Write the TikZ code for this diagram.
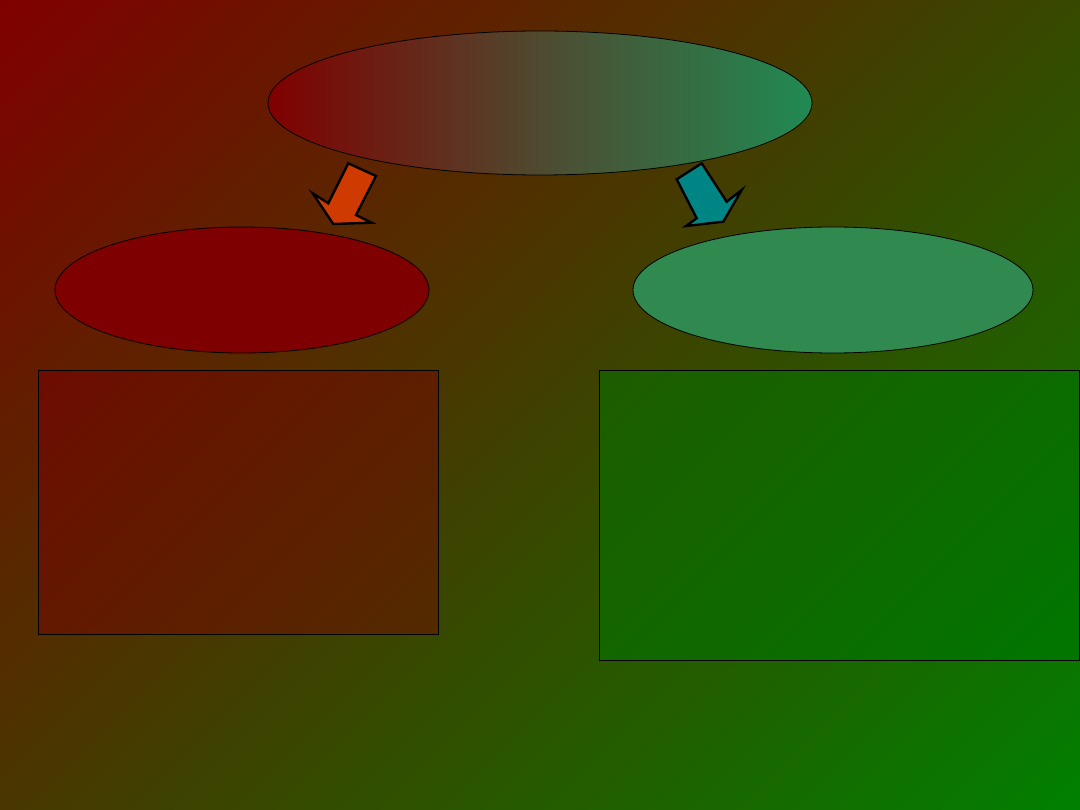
\documentclass[tikz,border=0pt]{standalone}
\usetikzlibrary{shapes.geometric}
\definecolor{bgred}{HTML}{800000}
\definecolor{bggreen}{HTML}{008000}
\definecolor{topgreen}{HTML}{208A52}
\definecolor{topmid}{HTML}{4F4A30}
\definecolor{leftfill}{HTML}{7E0000}
\definecolor{rightfill}{HTML}{30894F}
\definecolor{lboxa}{HTML}{6E0C00}
\definecolor{lboxb}{HTML}{522B00}
\definecolor{rboxa}{HTML}{1E5C00}
\definecolor{rboxb}{HTML}{007600}
\definecolor{arrowred}{HTML}{CF3A00}
\definecolor{arrowteal}{HTML}{008585}
% 45 degree gradient in a rectangle: x0,y0,x1,y1,colour A (top left), colour B (bottom right)
\newcommand\mydiagfill[6]{%
  \begin{scope}
    \clip (#1,#2) rectangle (#3,#4);
    \pgfmathsetmacro\mydcx{(#1+#3)/2}%
    \pgfmathsetmacro\mydcy{(#2+#4)/2}%
    \pgfmathsetmacro\myds{((#3-#1)+(#4-#2))/2/sqrt(2)}%
    \begin{scope}[transform canvas={shift={(\mydcx,\mydcy)},rotate=45}]
      \shade[top color=#5,bottom color=#6] (-\myds,-\myds) rectangle (\myds,\myds);
    \end{scope}
  \end{scope}}
\begin{document}
\begin{tikzpicture}[x=1pt,y=-1pt,
  oval/.style={ellipse,draw=black,line width=0.8pt,inner sep=0pt},
  panel/.style={rectangle,draw=black,line width=1pt,inner sep=0pt},
  blockarrow/.style={draw=black,line width=2.4pt,line join=miter}]
\useasboundingbox (0,0) rectangle (1080,810);
% background
\mydiagfill{0}{0}{1080}{810}{bgred}{bggreen}
% top ellipse
\node[oval,minimum width=544pt,minimum height=144pt,left color=bgred,right color=topgreen,middle color=topmid] (top) at (540,103) {};
% second row ellipses
\node[oval,minimum width=374pt,minimum height=126pt,fill=leftfill] (left) at (242,290) {};
\node[oval,minimum width=400pt,minimum height=126pt,fill=rightfill] (right) at (833,290) {};
% panels
\mydiagfill{38}{371}{438}{634}{lboxa}{lboxb}
\mydiagfill{599}{371}{1079}{660}{rboxa}{rboxb}
\node[panel,minimum width=400pt,minimum height=263pt] (lbox) at (238,502.5) {};
\node[panel,minimum width=480pt,minimum height=289pt] (rbox) at (839,515.5) {};
% block arrows
\draw[blockarrow,fill=arrowred] (348.3,163.3) -- (376,176) -- (356,215) -- (371.7,222.7) -- (333.3,224) -- (312.7,193.3) -- (328.3,203.3) -- cycle;
\draw[blockarrow,fill=arrowteal] (676.7,179.3) -- (701.7,163.3) -- (726.7,201.7) -- (741.7,190) -- (723.3,221.7) -- (686,226) -- (696.7,218.3) -- cycle;
\end{tikzpicture}
\end{document}
